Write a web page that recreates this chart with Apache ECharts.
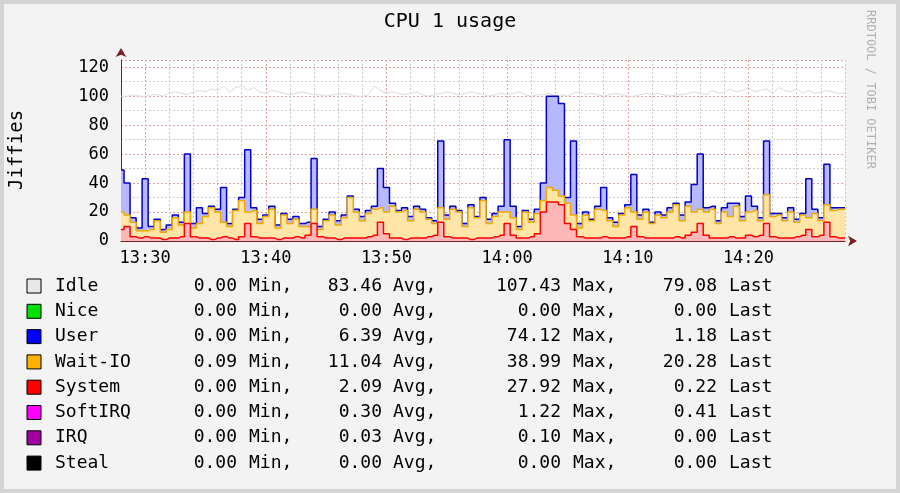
<!DOCTYPE html>
<html>
<head>
<meta charset="utf-8">
<script src="https://cdn.jsdelivr.net/npm/echarts@6/dist/echarts.min.js"></script>
<style>
html, body { margin: 0; padding: 0; background: #d4d4d4; }
#chart { width: 900px; height: 493px; }
</style>
</head>
<body>
<div id="chart"></div>
<script>
// values every 30s from 13:28:00 to 14:28:00
var system = [8,10,3,2,3,2,2,1,2,2, 3,12,3,2,2,1,2,3,2,1, 3,12,3,2,2,2,1,2,2,3, 2,4,12,3,2,2,1,2,2,2,
  2,3,4,13,5,2,2,1,2,2, 2,3,4,13,3,2,2,2,1,2, 2,2,3,4,12,4,2,2,3,5, 20,27,27,25,12,8,3,2,2,2,
  3,2,2,2,3,10,3,2,2,2, 2,2,3,2,4,6,12,4,2,2, 2,3,2,2,4,3,4,12,3,2, 2,2,3,4,8,3,4,13,3,2,2];
var waitIO = [12,8,10,5,4,6,12,5,6,14, 8,8,6,10,15,22,18,10,8,20, 25,8,18,10,15,20,8,16,10,12, 8,6,10,5,12,16,10,14,28,18,
  12,16,18,10,15,22,18,20,12,20, 18,12,8,10,12,20,18,8,22,14, 26,10,14,16,8,12,6,18,10,14, 8,10,8,6,14,10,6,16,12,20,
  18,12,8,16,20,10,12,18,10,16, 14,18,22,12,20,14,10,16,20,10, 18,14,22,12,16,18,10,20,14,16, 12,18,10,14,8,16,10,12,18,20,20];
var user = [29,22,3,2,36,2,1,2,3,2, 2,40,3,11,2,1,2,24,2,1, 2,43,2,3,1,2,2,1,3,2, 2,3,35,2,1,2,3,2,1,2,
  3,2,2,27,17,2,1,2,3,2, 2,1,2,46,3,2,1,2,2,1, 2,3,2,4,50,8,2,1,2,3, 12,63,65,64,4,51,3,2,1,2,
  16,2,3,1,2,26,3,2,1,2, 2,3,1,4,3,19,38,3,2,2, 3,9,2,3,11,3,2,37,2,1, 2,3,2,1,27,3,2,28,2,1,1];
var idle = [100,100,101,100,100,101,101,100,102,103, 102,101,103,104,103,105,104,107,103,106, 107,104,106,103,102,104,103,102,101,102,
  103,102,101,101,100,101,101,102,101,100, 100,101,107,104,102,103,102,101,102,103, 101,100,101,102,103,102,101,102,103,102,
  101,100,101,102,101,102,103,101,100,101, 101,102,100,101,100,102,103,101,102,101, 100,101,102,101,100,100,101,102,101,102,
  101,100,101,101,102,103,102,101,104,102, 103,105,103,104,106,103,104,105,102,106, 104,103,105,102,104,102,103,104,103,102,102];

var legendNames = ['Idle', 'Nice', 'User', 'Wait-IO', 'System', 'SoftIRQ', 'IRQ', 'Steal'];
var legendColors = ['#e8e8e8', '#00e000', '#0000ff', '#ffb000', '#ff0000', '#ff00ff', '#a000a0', '#000000'];
var minVals = ['0.00', '0.00', '0.00', '0.09', '0.00', '0.00', '0.00', '0.00'];
var avgVals = ['83.46', '0.00', '6.39', '11.04', '2.09', '0.30', '0.03', '0.00'];
var maxVals = ['107.43', '0.00', '74.12', '38.99', '27.92', '1.22', '0.10', '0.00'];
var lastVals = ['79.08', '0.00', '1.18', '20.28', '0.22', '0.41', '0.00', '0.00'];

var times = [];
for (var i = 0; i <= 120; i++) {
    var m = 28 + i * 0.5;
    var h = 13 + Math.floor(m / 60);
    var mm = Math.floor(m % 60);
    times.push(h + ':' + (mm < 10 ? '0' + mm : mm) + (i % 2 ? ':30' : ':00'));
}
function minuteOf(i) { return Math.floor((28 + i * 0.5) % 60); }

var mono = 'DejaVu Sans Mono';
var graphics = [
    { type: 'rect', shape: { x: 4, y: 4, width: 892, height: 485 }, style: { fill: '#f3f3f3' }, z: -10 },
    { type: 'text', left: 'center', top: 12, style: { text: 'CPU 1 usage', font: '20px ' + mono, fill: '#000' } },
    { type: 'text', x: 8, y: 190, rotation: Math.PI / 2, style: { text: 'Jiffies', font: '19px ' + mono, fill: '#000' } },
    { type: 'text', x: 876, y: 10, rotation: -Math.PI / 2, style: { text: 'RRDTOOL / TOBI OETIKER', font: '12px ' + mono, fill: '#b0b0b0' } }
];
for (var k = 0; k < legendNames.length; k++) {
    var y = 286 + k * 25.3;
    graphics.push({ type: 'rect', shape: { x: 27, y: y - 7, width: 14, height: 14 }, style: { fill: legendColors[k], stroke: '#000', lineWidth: 1 } });
    graphics.push({ type: 'text', x: 55, y: y, style: { text: legendNames[k], font: '18px ' + mono, fill: '#000', verticalAlign: 'middle' } });
    graphics.push({ type: 'text', x: 237, y: y, style: { text: minVals[k], font: '18px ' + mono, fill: '#000', align: 'right', verticalAlign: 'middle' } });
    graphics.push({ type: 'text', x: 249, y: y, style: { text: 'Min,', font: '18px ' + mono, fill: '#000', verticalAlign: 'middle' } });
    graphics.push({ type: 'text', x: 382, y: y, style: { text: avgVals[k], font: '18px ' + mono, fill: '#000', align: 'right', verticalAlign: 'middle' } });
    graphics.push({ type: 'text', x: 393, y: y, style: { text: 'Avg,', font: '18px ' + mono, fill: '#000', verticalAlign: 'middle' } });
    graphics.push({ type: 'text', x: 561, y: y, style: { text: maxVals[k], font: '18px ' + mono, fill: '#000', align: 'right', verticalAlign: 'middle' } });
    graphics.push({ type: 'text', x: 573, y: y, style: { text: 'Max,', font: '18px ' + mono, fill: '#000', verticalAlign: 'middle' } });
    graphics.push({ type: 'text', x: 717, y: y, style: { text: lastVals[k], font: '18px ' + mono, fill: '#000', align: 'right', verticalAlign: 'middle' } });
    graphics.push({ type: 'text', x: 729, y: y, style: { text: 'Last', font: '18px ' + mono, fill: '#000', verticalAlign: 'middle' } });
}

var chart = echarts.init(document.getElementById('chart'));
var option = {
    animation: false,
    backgroundColor: '#d4d4d4',
    graphic: graphics,
    grid: { left: 121, right: 55, top: 60, bottom: 252, backgroundColor: '#ffffff', show: true, borderWidth: 0 },
    xAxis: [{
        type: 'category', data: times, boundaryGap: false,
        axisLine: { lineStyle: { color: '#7a2020' }, symbol: ['none', 'arrow'], symbolSize: [8, 9], symbolOffset: [0, 12] },
        axisTick: { show: false },
        axisLabel: {
            interval: function (i) { return i % 2 === 0 && minuteOf(i) % 10 === 0; },
            formatter: function (v) { return v.slice(0, 5); },
            fontFamily: mono, fontSize: 17, color: '#000', margin: 9
        },
        splitLine: {
            show: true,
            interval: function (i) { return i % 4 === 0 && minuteOf(i) % 10 !== 0; },
            lineStyle: { color: '#cccccc', type: [2, 2] }
        }
    }, {
        type: 'category', data: times, boundaryGap: false, position: 'bottom',
        axisLine: { show: false }, axisTick: { show: false }, axisLabel: { show: false },
        splitLine: {
            show: true,
            interval: function (i) { return i % 2 === 0 && minuteOf(i) % 10 === 0; },
            lineStyle: { color: '#e0a0a0', type: [2, 2] }
        }
    }],
    yAxis: {
        type: 'value', min: 0, max: 125, interval: 20,
        axisLine: { show: true, lineStyle: { color: '#7a2020' }, symbol: ['none', 'arrow'], symbolSize: [8, 9], symbolOffset: [0, 12] },
        axisTick: { show: false },
        axisLabel: { fontFamily: mono, fontSize: 17, color: '#000', showMaxLabel: false, margin: 12 },
        splitLine: { lineStyle: { color: '#e0a0a0', type: [2, 2] } },
        minorTick: { show: false, splitNumber: 2 },
        minorSplitLine: { show: true, lineStyle: { color: '#cccccc', type: [2, 2] } }
    },
    series: [
        { name: 'Idle', type: 'line', data: idle, symbol: 'none', lineStyle: { color: '#dcdcdc', width: 1 }, z: 1 },
        { name: 'System', type: 'line', stack: 'cpu', data: system, symbol: 'none', step: 'middle',
          lineStyle: { color: '#ff0000', width: 1.5 }, areaStyle: { color: '#ffb8b8', opacity: 1 }, z: 4 },
        { name: 'Wait-IO', type: 'line', stack: 'cpu', data: waitIO, symbol: 'none', step: 'middle',
          lineStyle: { color: '#f0a800', width: 1.5 }, areaStyle: { color: '#ffe6a8', opacity: 1 }, z: 3 },
        { name: 'User', type: 'line', stack: 'cpu', data: user, symbol: 'none', step: 'middle',
          lineStyle: { color: '#0000c8', width: 1.5 }, areaStyle: { color: '#b8b8ff', opacity: 1 }, z: 2 }
    ]
};
chart.setOption(option);
</script>
</body>
</html>
